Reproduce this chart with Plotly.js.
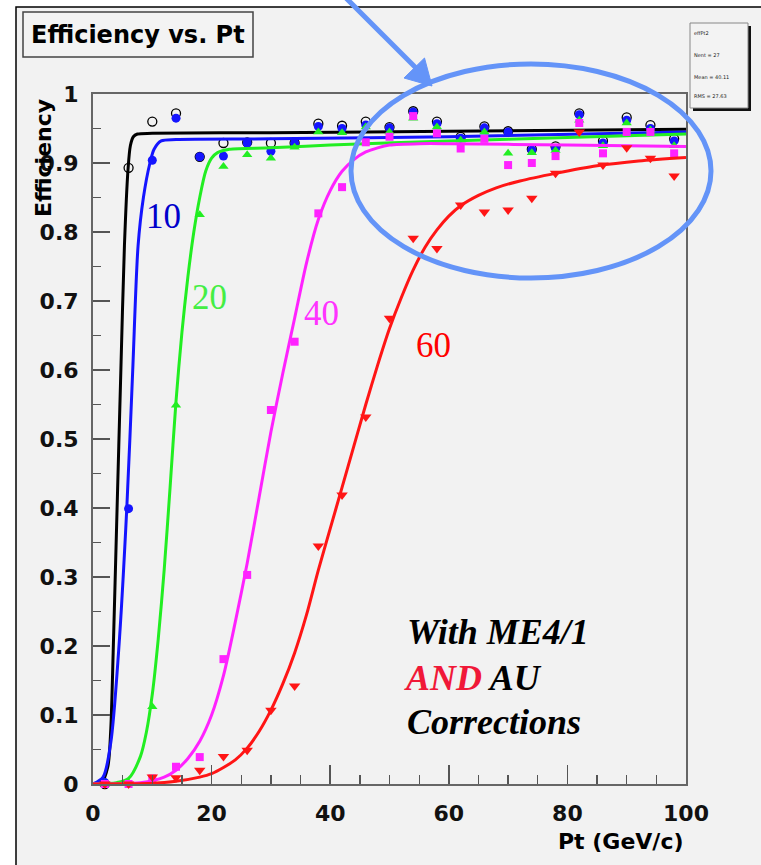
<!DOCTYPE html>
<html>
<head>
<meta charset="utf-8">
<script src="https://cdn.plot.ly/plotly-3.0.1.min.js"></script>
<style>html,body{margin:0;padding:0;background:#fff;}#chart{width:761px;height:865px;}</style>
</head>
<body>
<div id="chart"></div>
<script>
// ---- data ----
const ptBins = [2, 6, 10, 14, 18, 22, 26, 30, 34, 38, 42, 46, 50, 54, 58, 62, 66, 70, 74, 78, 82, 86, 90, 94, 98];

const effThr5  = [0.0, 0.893, 0.960, 0.972, 0.909, 0.929, 0.930, 0.929, 0.929, 0.957, 0.954, 0.960, 0.952, 0.975, 0.960, 0.938, 0.953, 0.946, 0.920, 0.924, 0.972, 0.932, 0.966, 0.955, 0.935];
const effThr10 = [0.002, 0.399, 0.904, 0.965, 0.909, 0.910, 0.929, 0.917, 0.929, 0.953, 0.950, 0.955, 0.951, 0.974, 0.957, 0.936, 0.951, 0.945, 0.919, 0.921, 0.970, 0.929, 0.962, 0.950, 0.932];
const effThr20 = [0.0, 0.002, 0.112, 0.549, 0.825, 0.895, 0.912, 0.907, 0.923, 0.945, 0.944, 0.952, 0.945, 0.965, 0.952, 0.933, 0.945, 0.914, 0.915, 0.918, 0.962, 0.925, 0.958, 0.948, 0.925];
const effThr40 = [0.0, 0.0, 0.008, 0.025, 0.039, 0.181, 0.303, 0.542, 0.641, 0.827, 0.865, 0.930, 0.938, 0.968, 0.943, 0.921, 0.935, 0.897, 0.900, 0.910, 0.958, 0.914, 0.945, 0.945, 0.914];
const effThr60 = [0.0, 0.0, 0.010, 0.009, 0.020, 0.040, 0.049, 0.107, 0.142, 0.345, 0.419, 0.532, 0.675, 0.791, 0.776, 0.839, 0.829, 0.832, 0.849, 0.885, 0.945, 0.897, 0.922, 0.907, 0.881];

// fitted curves
const fit5X  = [0, 1.5, 2.5, 3.0, 3.4, 4.0, 4.7, 5.3, 5.9, 6.3, 6.8, 7.5, 10, 30, 60, 100];
const fit5Y  = [0, 0.003, 0.025, 0.08, 0.19, 0.38, 0.60, 0.78, 0.89, 0.925, 0.938, 0.942, 0.943, 0.944, 0.946, 0.949];
const fit10X = [0, 1.7, 3.0, 4.3, 5.7, 6.7, 7.6, 8.5, 9.6, 10.3, 11.5, 14, 30, 60, 100];
const fit10Y = [0, 0.01, 0.06, 0.19, 0.40, 0.60, 0.78, 0.85, 0.90, 0.92, 0.932, 0.934, 0.935, 0.938, 0.945];
const fit20X = [0, 4, 6, 8, 9, 10, 11, 12, 13, 14, 15, 16, 17, 18, 19, 20, 21, 23, 30, 40, 60, 80, 100];
const fit20Y = [0, 0.002, 0.008, 0.04, 0.075, 0.13, 0.21, 0.31, 0.43, 0.555, 0.655, 0.735, 0.80, 0.85, 0.888, 0.907, 0.915, 0.92, 0.922, 0.926, 0.932, 0.937, 0.942];
const fit40X = [0, 8, 12, 14, 16, 18, 20, 22, 24, 26, 28, 30, 32, 34, 36, 38, 40, 42, 44, 46, 48, 50, 55, 60, 80, 100];
const fit40Y = [0, 0.002, 0.01, 0.02, 0.037, 0.062, 0.10, 0.157, 0.235, 0.32, 0.415, 0.51, 0.595, 0.675, 0.755, 0.818, 0.86, 0.888, 0.905, 0.916, 0.922, 0.926, 0.928, 0.928, 0.926, 0.924];
const fit60X = [0, 10, 14, 18, 20, 22, 24, 26, 28, 30, 32, 34, 36, 38, 40, 42, 44, 46, 48, 50, 52, 54, 56, 58, 60, 62, 65, 68, 72, 78, 85, 92, 100];
const fit60Y = [0, 0.001, 0.004, 0.01, 0.015, 0.024, 0.035, 0.052, 0.076, 0.107, 0.145, 0.19, 0.245, 0.31, 0.37, 0.43, 0.49, 0.55, 0.607, 0.66, 0.705, 0.745, 0.778, 0.803, 0.823, 0.838, 0.853, 0.864, 0.874, 0.885, 0.896, 0.903, 0.908];

const xTicks = [0, 20, 40, 60, 80, 100];
const yTicks = [0, 0.1, 0.2, 0.3, 0.4, 0.5, 0.6, 0.7, 0.8, 0.9, 1];
const curveLabels = ['10', '20', '40', '60'];
const statsLines = ['effPt2', 'Nent = 27', 'Mean = 40.11', 'RMS = 27.63'];

// ---- styling ----
const W = 761, H = 865;
const L = 93, R = 686, T = 94, B = 784;
const px = v => (v - L) / (R - L);
const py = v => (B - v) / (B - T);

const colBlack = '#000000', colBlue = '#1515ff', colGreen = '#22ee22', colMag = '#ff22ff', colRed = '#ff1515';
const ann = '#6494f8';

function fit(x, y, c) {
  return {x: x, y: y, mode: 'lines', type: 'scatter', line: {color: c, width: 3, shape: 'spline', smoothing: 0.8}, hoverinfo: 'skip', cliponaxis: true};
}
function pts(y, c, sym, size, open) {
  return {x: ptBins, y: y, mode: 'markers', type: 'scatter', cliponaxis: false,
    marker: open ? {symbol: sym, size: size, color: c, line: {color: c, width: 1.3}}
                 : {symbol: sym, size: size, color: c, line: {width: 0}}};
}

const traces = [
  fit(fit5X, fit5Y, colBlack), pts(effThr5, colBlack, 'circle-open', 9, true),
  fit(fit10X, fit10Y, colBlue), pts(effThr10, colBlue, 'circle', 9, false),
  fit(fit20X, fit20Y, colGreen), pts(effThr20, colGreen, 'triangle-up', 9, false),
  fit(fit40X, fit40Y, colMag), pts(effThr40, colMag, 'square', 8, false),
  fit(fit60X, fit60Y, colRed), pts(effThr60, colRed, 'triangle-down', 10, false)
];

const tickFont = {family: 'DejaVu Sans', size: 22, color: '#111', weight: 'bold'};

const shapes = [
  {type: 'rect', xref: 'paper', yref: 'paper', x0: px(16), x1: px(790), y0: py(890), y1: py(7), fillcolor: '#f2f2f2', line: {color: '#000', width: 1.5}, layer: 'below'},
  {type: 'rect', xref: 'paper', yref: 'paper', x0: px(23), x1: px(253), y0: py(57), y1: py(12), fillcolor: '#f3f3f3', line: {color: '#444', width: 1.5}, layer: 'below'},
  {type: 'rect', xref: 'paper', yref: 'paper', x0: px(693), x1: px(751), y0: py(111), y1: py(26), fillcolor: '#111', line: {width: 0}, layer: 'below'},
  {type: 'rect', xref: 'paper', yref: 'paper', x0: px(690), x1: px(748), y0: py(108), y1: py(23), fillcolor: '#f3f3f3', line: {color: '#888', width: 1}, layer: 'below'},
  {type: 'circle', xref: 'paper', yref: 'paper', x0: px(351), x1: px(711), y0: py(278), y1: py(64), line: {color: ann, width: 5}, layer: 'above'},
  {type: 'line', xref: 'paper', yref: 'paper', x0: px(343), y0: py(-5), x1: px(418), y1: py(70), line: {color: ann, width: 5}, layer: 'above'},
  {type: 'path', xref: 'paper', yref: 'paper',
   path: 'M' + px(432) + ',' + py(86) + ' L' + px(424.5) + ',' + py(58) + ' L' + px(404) + ',' + py(78) + ' Z',
   fillcolor: ann, line: {color: ann, width: 1}, layer: 'above'}
];

const serif = 'Liberation Serif, Times New Roman, serif';
const annotations = [
  {text: 'Efficiency vs. Pt', xref: 'paper', yref: 'paper', x: px(138), y: py(34.5), xanchor: 'center', yanchor: 'middle', showarrow: false,
   font: {family: 'DejaVu Sans', size: 24, color: '#000', weight: 'bold'}},
  {text: 'Efficiency', xref: 'paper', yref: 'paper', x: px(44), y: py(158), xanchor: 'center', yanchor: 'middle', textangle: -90, showarrow: false,
   font: {family: 'DejaVu Sans', size: 22, color: '#000', weight: 'bold'}},
  {text: 'Pt (GeV/c)', xref: 'paper', yref: 'paper', x: px(686), y: py(841), xanchor: 'right', yanchor: 'middle', showarrow: false,
   font: {family: 'DejaVu Sans', size: 22, color: '#000', weight: 'bold'}},
  {text: curveLabels[0], xref: 'paper', yref: 'paper', x: px(163), y: py(216), xanchor: 'center', yanchor: 'middle', showarrow: false, font: {family: serif, size: 35, color: '#0000cc'}},
  {text: curveLabels[1], xref: 'paper', yref: 'paper', x: px(209), y: py(297), xanchor: 'center', yanchor: 'middle', showarrow: false, font: {family: serif, size: 35, color: '#44ee44'}},
  {text: curveLabels[2], xref: 'paper', yref: 'paper', x: px(321), y: py(313), xanchor: 'center', yanchor: 'middle', showarrow: false, font: {family: serif, size: 35, color: '#ff33ff'}},
  {text: curveLabels[3], xref: 'paper', yref: 'paper', x: px(433), y: py(345), xanchor: 'center', yanchor: 'middle', showarrow: false, font: {family: serif, size: 35, color: '#ff0000'}},
  {text: '<b><i>With ME4/1</i></b>', xref: 'paper', yref: 'paper', x: px(405), y: py(632), xanchor: 'left', yanchor: 'middle', showarrow: false, font: {family: serif, size: 36, color: '#000'}},
  {text: '<b><i><span style="color:#f01838">AND</span> AU</i></b>', xref: 'paper', yref: 'paper', x: px(402), y: py(678), xanchor: 'left', yanchor: 'middle', showarrow: false, font: {family: serif, size: 36, color: '#000'}},
  {text: '<b><i>Corrections</i></b>', xref: 'paper', yref: 'paper', x: px(405), y: py(722), xanchor: 'left', yanchor: 'middle', showarrow: false, font: {family: serif, size: 36, color: '#000'}}
];
const statsY = [33, 55, 77, 96];
statsLines.forEach((s, i) => annotations.push({text: s, xref: 'paper', yref: 'paper', x: px(692), y: py(statsY[i]), xanchor: 'left', yanchor: 'middle', showarrow: false,
  font: {family: 'DejaVu Sans', size: 5, color: '#222'}}));

const layout = {
  width: W, height: H, autosize: false,
  margin: {l: L, r: W - R, t: T, b: H - B, pad: 0},
  paper_bgcolor: '#ffffff', plot_bgcolor: 'rgba(0,0,0,0)',
  showlegend: false,
  font: {family: 'DejaVu Sans'},
  xaxis: {range: [0, 100], tickvals: xTicks, ticktext: xTicks.map(String), ticks: 'inside', ticklen: 19, tickwidth: 1.5, tickcolor: '#555',
    minor: {dtick: 5, ticks: 'inside', ticklen: 9, tickwidth: 1.3, tickcolor: '#555', showgrid: false},
    showgrid: false, zeroline: false, showline: true, linecolor: '#666', linewidth: 2, mirror: true,
    tickfont: tickFont, ticklabelstandoff: 9},
  yaxis: {range: [0, 1], tickvals: yTicks, ticktext: yTicks.map(String), ticks: 'inside', ticklen: 17, tickwidth: 1.5, tickcolor: '#555',
    minor: {dtick: 0.05, ticks: 'inside', ticklen: 8, tickwidth: 1.3, tickcolor: '#555', showgrid: false},
    showgrid: false, zeroline: false, showline: true, linecolor: '#666', linewidth: 2, mirror: true,
    tickfont: tickFont, ticklabelstandoff: 8},
  shapes: shapes,
  annotations: annotations
};

Plotly.newPlot('chart', traces, layout, {staticPlot: true, displayModeBar: false});
</script>
</body>
</html>
